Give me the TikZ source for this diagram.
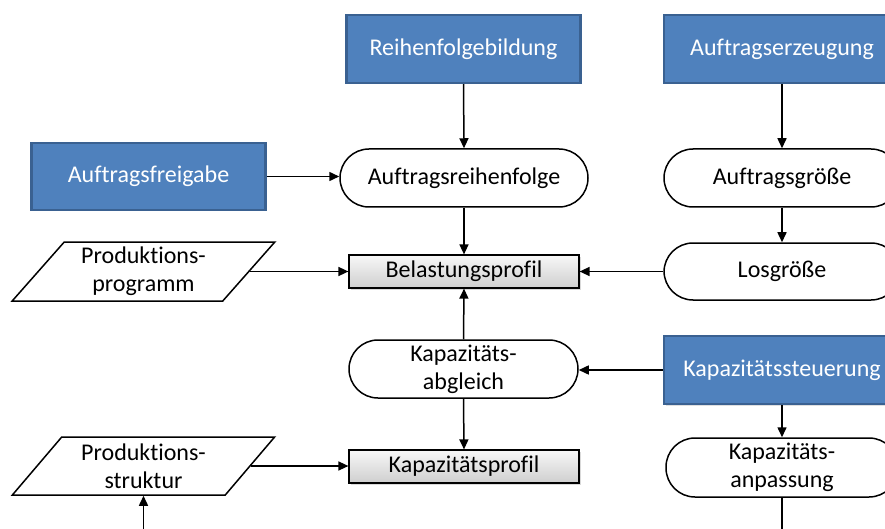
\documentclass[tikz,border=0pt]{standalone}
\usepackage{fontspec}
\setmainfont{Carlito}[Ligatures=NoCommon]
\usetikzlibrary{shapes.geometric,shadows,arrows.meta}
\definecolor{taskblue}{HTML}{4F81BD}
\definecolor{taskedge}{HTML}{3A6191}

\begin{document}
\begin{tikzpicture}[x=1pt,y=-1pt,
  font=\fontsize{24}{28}\selectfont,
  task/.style={rectangle, fill=taskblue, draw=taskedge, line width=2.2pt,
    text=white, minimum width=234pt, minimum height=68pt, inner sep=0pt,
    drop shadow={opacity=0.25, shadow xshift=1.5pt, shadow yshift=-1.5pt}},
  state/.style={rectangle, rounded corners=29pt, draw=black, line width=1.5pt,
    fill=white, align=center, minimum width=236pt, minimum height=58pt, inner sep=0pt},
  data/.style={trapezium, trapezium left angle=50, trapezium right angle=130,
    trapezium stretches=true, draw=black, line width=1.5pt, fill=white,
    align=center, minimum width=263pt, minimum height=59pt, inner sep=0pt},
  profile/.style={rectangle, draw=black, line width=1.2pt,
    top color=gray!6, bottom color=gray!38, minimum width=230pt,
    minimum height=33pt, inner sep=0pt,
    drop shadow={opacity=0.3, shadow xshift=2pt, shadow yshift=-2pt}},
  arr/.style={-{Triangle[length=10pt,width=9pt]}, line width=1.5pt},
  link/.style={line width=1.5pt}
]
\useasboundingbox (0,0) rectangle (885,529);
\clip (0,0) rectangle (885,529);

% planning functions
\node[task] (rf) at (463.5,49) {Reihenfolgebildung};
\node[task, minimum width=236pt] (ae) at (782,49) {Auftragserzeugung};
\node[task, minimum height=67pt] (af) at (148.5,176.5) {Auftragsfreigabe};
\node[task, minimum width=236pt] (ks) at (782,370) {Kapazitätssteuerung};

% intermediate results
\node[state, minimum width=248pt] (ar) at (464,178) {Auftragsreihenfolge};
\node[state] (ag) at (782,178) {Auftragsgröße};
\node[state, minimum height=57pt] (lg) at (782,271.5) {Losgröße};
\node[state, minimum width=229pt] (ka) at (463.5,369) {Kapazitäts-\\abgleich};
\node[state, minimum width=232pt, minimum height=59pt] (kan) at (782,467.5) {Kapazitäts-\\anpassung};

% input data
\node[data] (pp) at (143.5,271.5) {Produktions-\\programm};
\node[data, minimum height=58pt] (ps) at (143.5,466) {Produktions-\\struktur};

% profiles
\node[profile] (bp) at (464,271.5) {Belastungsprofil};
\node[profile] (kp) at (464,466.5) {Kapazitätsprofil};

% free ends at the lower edge
\coordinate (psin) at (143.5,529);
\coordinate (kanout) at (782,529);

% connectors
\draw[arr] (rf.south) -- (ar.north);
\draw[arr] (ae.south) -- (ag.north);
\draw[arr] (af.east) -- (af.east -| ar.west);
\draw[arr] (ar.south) -- (bp.north);
\draw[arr] (ag.south) -- (lg.north);
\draw[arr] (pp.east) -- (pp.east -| bp.west);
\draw[arr] (lg.west) -- (lg.west -| bp.east);
\draw[arr] (ka.north) -- (bp.south);
\draw[arr] (ks.west) -- (ks.west -| ka.east);
\draw[arr] (ka.south) -- (kp.north);
\draw[arr] (ps.east) -- (ps.east -| kp.west);
\draw[arr] (ks.south) -- (kan.north);
\draw[arr] (psin) -- (ps.south);
\draw[link] (kan.south) -- (kanout);
\end{tikzpicture}
\end{document}
